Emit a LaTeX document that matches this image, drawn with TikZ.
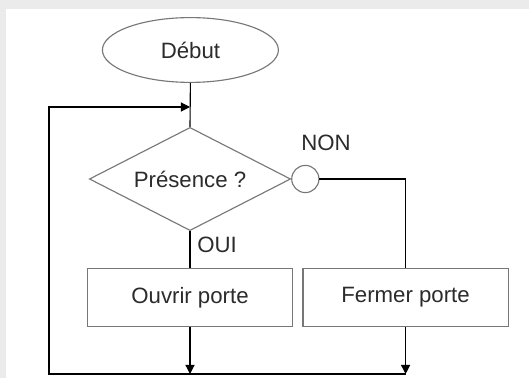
\documentclass[tikz,border=0pt]{standalone}
\usepackage{fontspec}
\setmainfont{Liberation Sans}
\usepackage{tikz}
\usetikzlibrary{shapes.geometric,arrows.meta}

\definecolor{bggray}{HTML}{EBEBEB}
\definecolor{edgegray}{HTML}{777777}
\definecolor{textgray}{HTML}{2B2B2B}

\tikzset{
  base/.style={draw=edgegray, thick, text=textgray, inner sep=0pt,
    font=\fontsize{15.8}{19}\selectfont},
  startnode/.style={base, ellipse, minimum width=4.4cm, minimum height=1.62cm},
  testnode/.style={base, diamond, aspect=2, minimum width=5.03cm, minimum height=2.58cm},
  actionnode/.style={base, rectangle, minimum width=5.13cm, minimum height=1.43cm},
  nonnode/.style={draw=edgegray, thick, circle, minimum size=0.68cm, inner sep=0pt},
  link/.style={thick, black},
  linkarrow/.style={thick, black, -{Triangle[length=6.5pt,width=6.5pt]}},
  label/.style={text=textgray, font=\fontsize{15.8}{19}\selectfont}
}

\begin{document}
\begin{tikzpicture}
        \useasboundingbox (0, 0) rectangle (13.225, -9.45);
        \fill[bggray] (0, 0) rectangle (13.225, -9.45);
        \fill[white] (0.15, -0.225) rectangle (13.225, -9.45);

        \node[startnode] (debut) at (4.76, -1.25) {Début};
        \node[testnode] (presence) at (4.75, -4.475) {Présence ?};
        \node[nonnode, anchor=west] (non) at (presence.east) {};
        \node[actionnode] (ouvrir) at (4.75, -7.4375) {Ouvrir porte};
        \node[actionnode] (fermer) at (10.14, -7.4375) {Fermer porte};
        \node[label] (nonlabel) at (8.15, -3.575) {NON};
        \node[label] (ouilabel) at (5.425, -6.125) {OUI};

        \coordinate (join) at (4.75, -2.675);
        \coordinate (topleft) at (1.225, -2.675);
        \coordinate (botleft) at (1.225, -9.35);

        \draw[link] (debut.south) -- (presence.north);
        \draw[link] (presence.south) -- (ouvrir.north);
        \draw[link] (non.east) -- (non.east -| fermer.north) -- (fermer.north);
        \draw[linkarrow] (ouvrir.south) -- (ouvrir.south |- botleft);
        \draw[linkarrow] (fermer.south) -- (fermer.south |- botleft);
        \draw[linkarrow] (fermer.south |- botleft) -- (botleft) -- (topleft) -- (join);
      \end{tikzpicture}
\end{document}
